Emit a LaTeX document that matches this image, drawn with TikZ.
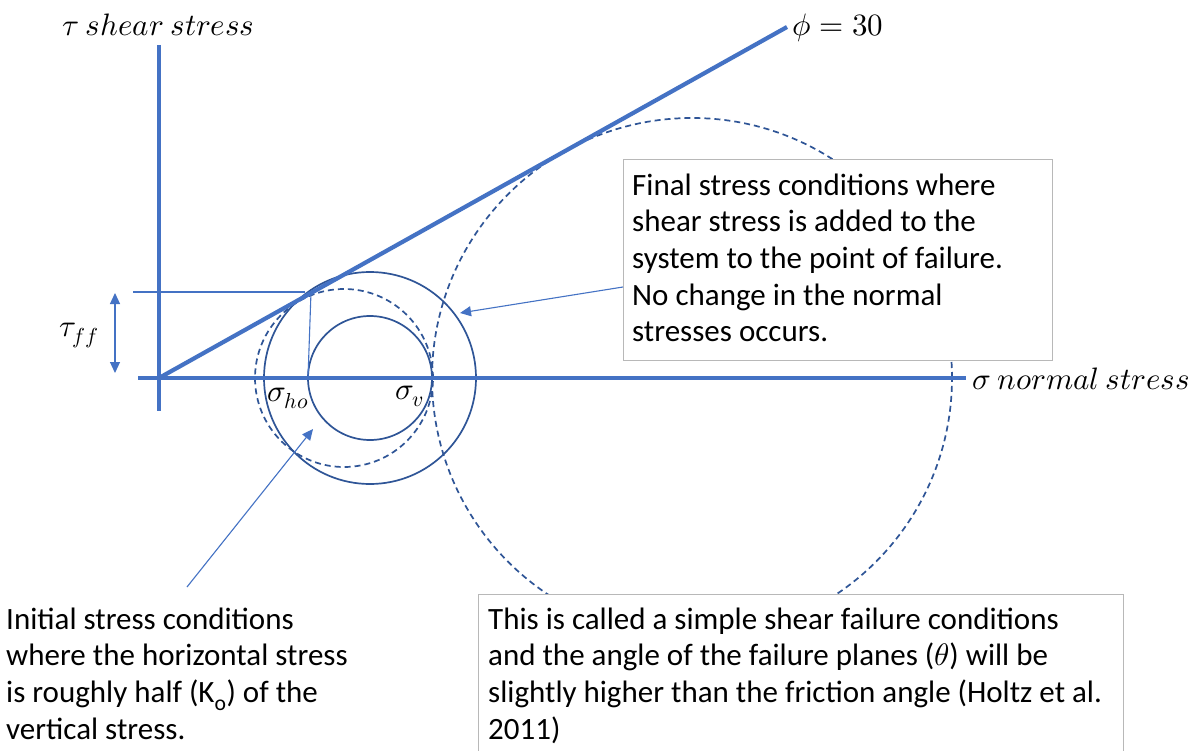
\documentclass[tikz,border=0pt]{standalone}
\usepackage{fontspec}
\usepackage{unicode-math}
\setmainfont{Carlito}
\usetikzlibrary{arrows.meta}
\definecolor{axblue}{HTML}{4472C4}
\definecolor{circblue}{HTML}{2F5597}
\definecolor{boxgray}{HTML}{B8B8B8}
\tikzset{
  axisline/.style={axblue, line width=4.6pt},
  failline/.style={axblue, line width=4.2pt},
  circline/.style={circblue, line width=1.7pt},
  dashcirc/.style={circblue, line width=1.7pt, dash pattern=on 6pt off 4pt},
  thinline/.style={axblue, line width=1.1pt},
  pointer/.style={axblue, line width=1.1pt, -{Triangle[length=11pt,width=10pt]}},
  dblpointer/.style={axblue, line width=1.1pt, {Triangle[length=11pt,width=10pt]}-{Triangle[length=11pt,width=10pt]}},
  mathlbl/.style={inner sep=0pt, font=\fontsize{31}{36}\selectfont, text=black},
  note/.style={inner sep=0pt, align=left, font=\fontsize{31}{36.6}\selectfont, text=black},
  notebox/.style={draw=boxgray, line width=1pt, fill=white, rectangle, inner sep=0pt, anchor=north west}
}
\begin{document}
\begin{tikzpicture}[x=1pt,y=-1pt]
\useasboundingbox (0,0) rectangle (1199,751);
\clip (0,0) rectangle (1199,751);
\fill[white] (0,0) rectangle (1199,751);

% key points
\coordinate (O) at (159,378);
\coordinate (ytop) at (159,45);
\coordinate (ybot) at (159,411);
\coordinate (xleft) at (138,378);
\coordinate (xright) at (966,378);
\coordinate (phiend) at (787,27);

% Mohr circles
\draw[circline] (370,378) circle[radius=62pt];
\draw[circline] (370,378) circle[radius=106pt];
\draw[dashcirc] (344,378) circle[radius=89pt];
\draw[dashcirc] (692,378) circle[radius=260pt];

% thin helper lines
\coordinate (hl) at (133,292);
\coordinate (hr) at (305,292);
\coordinate (vt) at (311,292);
\coordinate (vb) at (308,378);
\draw[thinline] (hl) -- (hr);
\draw[thinline] (vt) -- (vb);

% axes and failure envelope
\draw[axisline] (ytop) -- (ybot);
\draw[axisline] (xleft) -- (xright);
\draw[failline] (O) -- (phiend);

% tau_ff double arrow
\coordinate (tt) at (115,293);
\coordinate (tb) at (115,373);
\draw[dblpointer] (tt) -- (tb);

% math labels
\node[mathlbl, anchor=base west] (ylab) at (62,36) {$\tau\ shear\ stress$};
\node[mathlbl, anchor=base west] (philab) at (792,36) {$\phi=30$};
\node[mathlbl, anchor=base west] (xlab) at (972,389) {$\sigma\ normal\ stress$};
\node[mathlbl, anchor=base west] (sho) at (267,401) {$\sigma_{ho}$};
\node[mathlbl, anchor=base west] (sv) at (395,399) {$\sigma_{v}$};
\node[mathlbl, anchor=base west] (tff) at (59,336) {$\tau_{ff}$};

% boxes
\node[notebox, minimum width=429pt, minimum height=201pt] (boxA) at (623,159) {};
\node[note, anchor=north west] (textA) at (632,170) {\rule{0pt}{25pt}Final stress conditions where\\shear stress is added to the\\system to the point of failure.\\No change in the normal\\stresses occurs.};
\node[notebox, minimum width=645pt, minimum height=200pt] (boxB) at (478,594) {};
\node[note, anchor=north west] (textB) at (488,604) {\rule{0pt}{25pt}This is called a simple shear failure conditions\\and the angle of the failure planes ($\theta$) will be\\slightly higher than the friction angle (Holtz et al.\\2011)};
\node[note, anchor=north west] (textC) at (6,604) {\rule{0pt}{25pt}Initial stress conditions\\where the horizontal stress\\is roughly half (K\textsubscript{o}) of the\\vertical stress.};

% pointers
\coordinate (pA) at (623,287);
\coordinate (pAtip) at (460,313);
\draw[pointer] (pA) -- (pAtip);
\coordinate (pC) at (187,587);
\coordinate (pCtip) at (313,429);
\draw[pointer] (pC) -- (pCtip);
\end{tikzpicture}
\end{document}
